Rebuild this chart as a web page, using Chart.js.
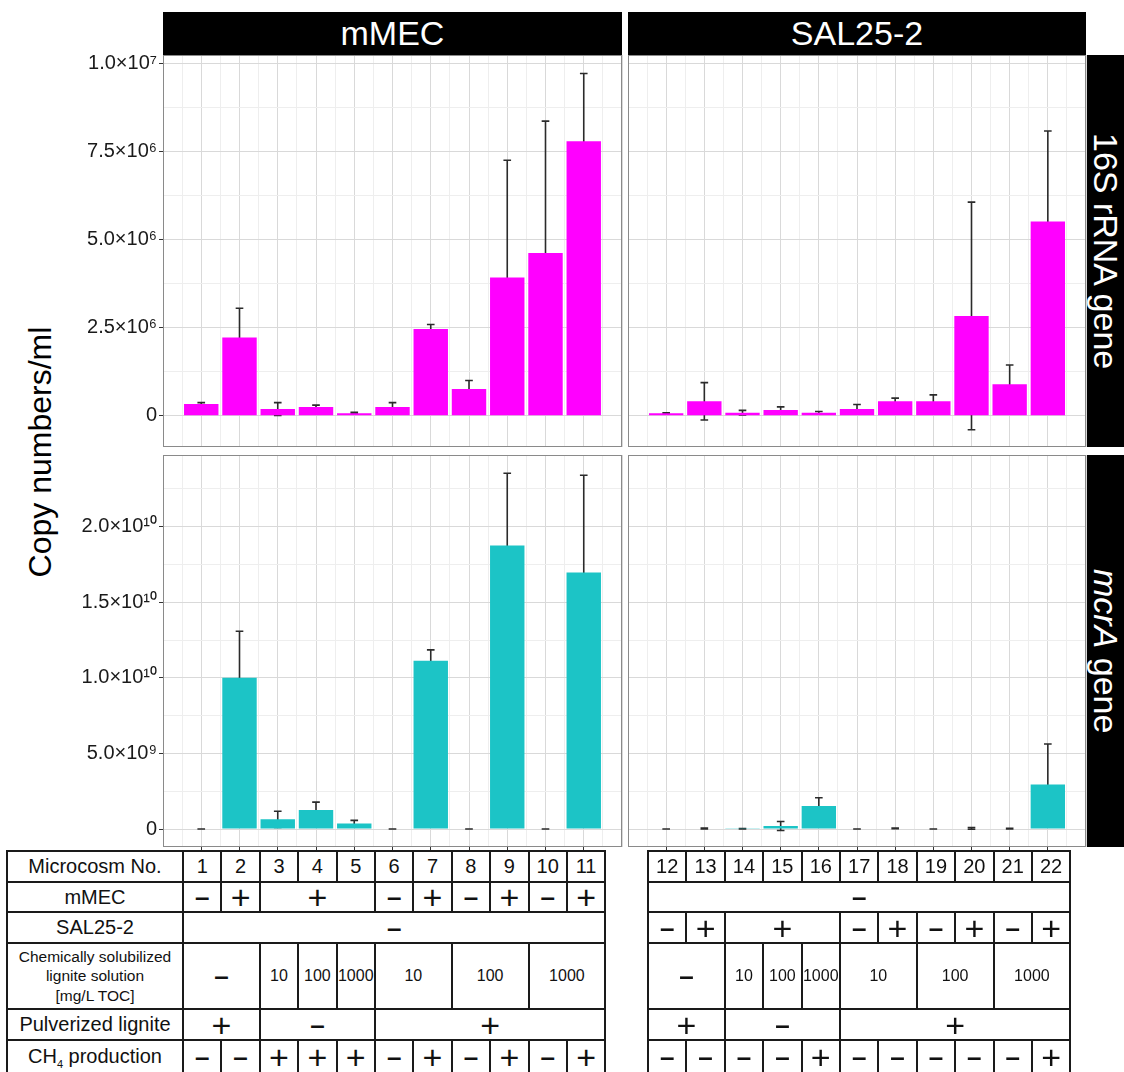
<!DOCTYPE html>
<html lang="en">
<head>
<meta charset="UTF-8">
<title>Copy numbers/ml</title>
<script src="https://cdn.jsdelivr.net/npm/chart.js"></script>
<style>
    body { margin: 0; width: 1124px; height: 1072px; overflow: hidden; background: #fff; position: relative;
           font-family: Arial, "Liberation Sans", sans-serif; }
    canvas { position: absolute; }
    .strip { position: absolute; background: #000; color: #fff; display: flex; align-items: center;
             justify-content: center; font-size: 34px; }
    .strip.side { writing-mode: vertical-rl; line-height: 38px; }
    #ytitle { position: absolute; left: 40px; top: 452px; font-size: 32px; color: #000; white-space: nowrap;
              transform: translate(-50%, -50%) rotate(-90deg); }
    table.cond { position: absolute; top: 850px; border-collapse: collapse; table-layout: fixed; background: #fff; }
    table.cond td { border: 2px solid #1a1a1a; text-align: center; padding: 0; color: #111; font-size: 20px;
                    overflow: hidden; white-space: nowrap; }
    table.cond td.lbl { white-space: pre-line; }
    table.cond td.small { font-size: 15.5px; line-height: 19.5px; }
    table.cond td.conc { font-size: 16px; }
    table.cond td.plus { font-size: 34px; line-height: 20px; }
    table.cond td.minus { font-size: 26px; font-weight: bold; line-height: 20px; }
</style>
</head>
<body>
<div class="strip" style="left:163px; top:12px; width:459px; height:43px;">mMEC</div>
<div class="strip" style="left:628px; top:12px; width:458px; height:43px;">SAL25-2</div>
<div class="strip side" style="left:1087px; top:55px; width:38px; height:392px;">16S rRNA gene</div>
<div class="strip side" style="left:1087px; top:455px; width:38px; height:392px;"><span><i>mcrA</i> gene</span></div>
<div id="ytitle">Copy numbers/ml</div>

<canvas id="tl" width="563" height="412" style="left:60px; top:45px;"></canvas>
<canvas id="tr" width="459" height="412" style="left:628px; top:45px;"></canvas>
<canvas id="bl" width="563" height="417" style="left:60px; top:445px;"></canvas>
<canvas id="br" width="459" height="417" style="left:628px; top:445px;"></canvas>

<table class="cond" id="tbl_left" style="left:6px; width:598px;"></table>
<table class="cond" id="tbl_right" style="left:647px; width:424px;"></table>

<script>
    // microcosm numbers
    const mmec_nos = ['1', '2', '3', '4', '5', '6', '7', '8', '9', '10', '11'];
    const sal_nos = ['12', '13', '14', '15', '16', '17', '18', '19', '20', '21', '22'];

    // 16S rRNA gene (copies/ml), mean and sd
    const top_left_mean = [0.33e6, 2.22e6, 0.19e6, 0.25e6, 0.07e6, 0.25e6, 2.46e6, 0.76e6, 3.92e6, 4.62e6, 7.79e6];
    const top_left_sd = [0.04e6, 0.83e6, 0.18e6, 0.05e6, 0.025e6, 0.12e6, 0.13e6, 0.24e6, 3.33e6, 3.74e6, 1.92e6];
    const top_right_mean = [0.07e6, 0.41e6, 0.085e6, 0.16e6, 0.085e6, 0.19e6, 0.41e6, 0.41e6, 2.83e6, 0.89e6, 5.51e6];
    const top_right_sd = [0.015e6, 0.53e6, 0.065e6, 0.09e6, 0.035e6, 0.13e6, 0.09e6, 0.18e6, 3.23e6, 0.55e6, 2.57e6];

    // mcrA gene (copies/ml), mean and sd
    const bottom_left_mean = [0, 1.0e10, 0.064e10, 0.126e10, 0.037e10, 0, 1.113e10, 0, 1.875e10, 0, 1.696e10];
    const bottom_left_sd = [0, 0.308e10, 0.053e10, 0.052e10, 0.02e10, 0, 0.072e10, 0, 0.478e10, 0, 0.644e10];
    const bottom_right_mean = [0, 0.004e10, 0.002e10, 0.02e10, 0.152e10, 0, 0.004e10, 0, 0.004e10, 0.003e10, 0.295e10];
    const bottom_right_sd = [0, 0.003e10, 0.001e10, 0.03e10, 0.055e10, 0, 0.002e10, 0, 0.006e10, 0.002e10, 0.267e10];

    // y ticks
    const top_ticks = [0, 2.5e6, 5.0e6, 7.5e6, 1.0e7];
    const top_tick_labels = ['0', '2.5×10⁶', '5.0×10⁶', '7.5×10⁶', '1.0×10⁷'];
    const bottom_ticks = [0, 5.0e9, 1.0e10, 1.5e10, 2.0e10];
    const bottom_tick_labels = ['0', '5.0×10⁹', '1.0×10¹⁰', '1.5×10¹⁰', '2.0×10¹⁰'];

    // condition table
    const row_labels = ['Microcosm No.', 'mMEC', 'SAL25-2',
        'Chemically solubilized\nlignite solution\n[mg/L TOC]', 'Pulverized lignite', 'CH<sub style="font-size:11px">4</sub> production'];
    const left_mmec = [['–', 1], ['+', 1], ['+', 3], ['–', 1], ['+', 1], ['–', 1], ['+', 1], ['–', 1], ['+', 1]];
    const left_sal = [['–', 11]];
    const left_conc = [['–', 2], ['10', 1], ['100', 1], ['1000', 1], ['10', 2], ['100', 2], ['1000', 2]];
    const left_lignite = [['+', 2], ['–', 3], ['+', 6]];
    const left_ch4 = ['–', '–', '+', '+', '+', '–', '+', '–', '+', '–', '+'];
    const right_mmec = [['–', 11]];
    const right_sal = [['–', 1], ['+', 1], ['+', 3], ['–', 1], ['+', 1], ['–', 1], ['+', 1], ['–', 1], ['+', 1]];
    const right_conc = [['–', 2], ['10', 1], ['100', 1], ['1000', 1], ['10', 2], ['100', 2], ['1000', 2]];
    const right_lignite = [['+', 2], ['–', 3], ['+', 6]];
    const right_ch4 = ['–', '–', '–', '–', '+', '–', '–', '–', '–', '–', '+'];

    const MAGENTA = '#ff00ff';
    const CYAN = '#1cc4c6';
    const FONT = 'Arial, "Liberation Sans", sans-serif';

    function noPad(s) {
        s.paddingTop = 0; s.paddingBottom = 0; s.paddingLeft = 0; s.paddingRight = 0;
    }

    function makePanel(id, nos, means, sds, color, ymin, ymax, ticks, labels, leftAxis, bottomRow) {
        const n = nos.length;
        const errbars = {
            id: 'errbars',
            beforeDatasetsDraw(chart) {
                const { ctx, chartArea, scales: { x, y } } = chart;
                ctx.save();
                ctx.beginPath();
                ctx.rect(chartArea.left, chartArea.top, chartArea.width, chartArea.height);
                ctx.clip();
                ctx.strokeStyle = '#2b2b2b';
                ctx.lineWidth = 1.6;
                const hw = x.getPixelForValue(1.1) - x.getPixelForValue(1);
                means.forEach(function (m, i) {
                    const px = x.getPixelForValue(i + 1);
                    const t = y.getPixelForValue(m + sds[i]);
                    const b = y.getPixelForValue(m - sds[i]);
                    ctx.beginPath();
                    ctx.moveTo(px, t); ctx.lineTo(px, b);
                    ctx.moveTo(px - hw, t); ctx.lineTo(px + hw, t);
                    ctx.moveTo(px - hw, b); ctx.lineTo(px + hw, b);
                    ctx.stroke();
                });
                ctx.restore();
            }
        };
        const frame = {
            id: 'frame',
            afterDraw(chart) {
                const { ctx, chartArea: a } = chart;
                ctx.save();
                ctx.strokeStyle = '#8a8a8a';
                ctx.lineWidth = 1;
                ctx.strokeRect(a.left + 0.5, a.top + 0.5, a.width - 1, a.height - 1);
                ctx.restore();
            }
        };
        const step = ticks[1] - ticks[0];
        return new Chart(document.getElementById(id), {
            type: 'bar',
            data: {
                datasets: [{
                    data: means.map((m, i) => ({ x: i + 1, y: m })),
                    backgroundColor: color,
                    borderWidth: 0,
                    // half-unit grid ticks make the ruler 0.5 wide, so 1.8 = 0.9 of a category
                    barPercentage: 1.8,
                    categoryPercentage: 1
                }]
            },
            options: {
                responsive: false,
                animation: false,
                events: [],
                layout: { padding: { top: 10, bottom: 10, left: 0, right: 1 } },
                plugins: { legend: { display: false }, tooltip: { enabled: false } },
                scales: {
                    x: {
                        type: 'linear', min: 0, max: n + 1, offset: false,
                        afterBuildTicks: function (s) {
                            const t = [];
                            for (let k = 0; k <= 2 * (n + 1); k++) t.push({ value: k / 2 });
                            s.ticks = t;
                        },
                        afterFit: function (s) { s.height = bottomRow ? 5 : 0; noPad(s); },
                        ticks: { display: false },
                        border: { display: false },
                        grid: {
                            offset: false,
                            drawTicks: bottomRow,
                            tickLength: 4,
                            color: c => (c.tick && c.tick.value % 1 === 0) ? '#d9d9d9' : '#eeeeee',
                            tickColor: c => (c.tick && c.tick.value % 1 === 0 && c.tick.value > 0 && c.tick.value <= n) ? '#333' : 'rgba(0,0,0,0)'
                        }
                    },
                    y: {
                        min: ymin, max: ymax,
                        afterBuildTicks: function (s) {
                            const vals = ticks.slice();
                            ticks.forEach(v => { if (v + step / 2 < ymax) vals.push(v + step / 2); });
                            vals.sort((a, b) => a - b);
                            s.ticks = vals.map(v => ({ value: v }));
                        },
                        afterFit: function (s) { s.width = leftAxis ? 103 : 0; noPad(s); },
                        border: { display: false },
                        ticks: {
                            display: leftAxis,
                            autoSkip: false,
                            padding: 2,
                            color: '#1a1a1a',
                            font: { family: FONT, size: 20 },
                            callback: function (v) {
                                const i = ticks.indexOf(v);
                                return i >= 0 ? labels[i] : '';
                            }
                        },
                        grid: {
                            drawTicks: leftAxis,
                            tickLength: 4,
                            color: c => (c.tick && ticks.indexOf(c.tick.value) >= 0) ? '#d9d9d9' : '#eeeeee',
                            tickColor: c => (c.tick && ticks.indexOf(c.tick.value) >= 0) ? '#333' : 'rgba(0,0,0,0)'
                        }
                    }
                }
            },
            plugins: [errbars, frame]
        });
    }

    makePanel('tl', mmec_nos, top_left_mean, top_left_sd, MAGENTA, -0.888e6, 10.236e6, top_ticks, top_tick_labels, true, false);
    makePanel('tr', sal_nos, top_right_mean, top_right_sd, MAGENTA, -0.888e6, 10.236e6, top_ticks, top_tick_labels, false, false);
    makePanel('bl', mmec_nos, bottom_left_mean, bottom_left_sd, CYAN, -0.119e10, 2.474e10, bottom_ticks, bottom_tick_labels, true, true);
    makePanel('br', sal_nos, bottom_right_mean, bottom_right_sd, CYAN, -0.119e10, 2.474e10, bottom_ticks, bottom_tick_labels, false, true);

    // condition tables
    const row_heights = [31, 30, 31, 66, 31, 34];

    function cellClass(txt, r) {
        if (txt === '+') return 'plus';
        if (txt === '–') return 'minus';
        if (r === 3) return 'conc';
        return '';
    }

    function buildTable(id, nos, rows, withLabels) {
        const tbl = document.getElementById(id);
        const cg = document.createElement('colgroup');
        if (withLabels) {
            const c = document.createElement('col'); c.style.width = '176px'; cg.appendChild(c);
        }
        nos.forEach(() => { const c = document.createElement('col'); c.style.width = '38.4px'; cg.appendChild(c); });
        tbl.appendChild(cg);
        const all = [nos.map(v => [v, 1])].concat(rows);
        all.forEach(function (cells, r) {
            const tr = document.createElement('tr');
            tr.style.height = row_heights[r] + 'px';
            if (withLabels) {
                const td = document.createElement('td');
                td.className = r === 3 ? 'lbl small' : 'lbl';
                td.innerHTML = row_labels[r];
                tr.appendChild(td);
            }
            cells.forEach(function (cell) {
                const td = document.createElement('td');
                td.colSpan = cell[1];
                td.textContent = cell[0];
                td.className = cellClass(cell[0], r);
                tr.appendChild(td);
            });
            tbl.appendChild(tr);
        });
    }

    buildTable('tbl_left', mmec_nos,
        [left_mmec, left_sal, left_conc, left_lignite, left_ch4.map(v => [v, 1])], true);
    buildTable('tbl_right', sal_nos,
        [right_mmec, right_sal, right_conc, right_lignite, right_ch4.map(v => [v, 1])], false);
</script>
</body>
</html>
